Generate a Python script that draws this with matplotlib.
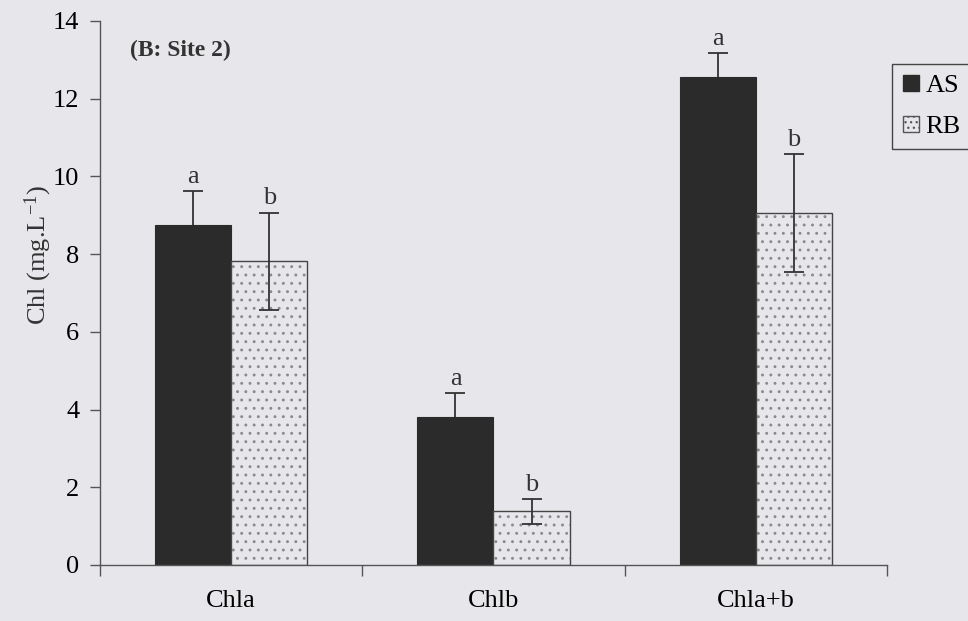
import numpy as np
import matplotlib
matplotlib.use('Agg')
import matplotlib.pyplot as plt
from matplotlib.patches import Patch

plt.rcParams['font.family'] = ['Liberation Serif', 'DejaVu Serif']
plt.rcParams['mathtext.default'] = 'regular'
plt.rcParams['hatch.linewidth'] = 0.9

categories = ['Chla', 'Chlb', 'Chla+b']
as_mean = [8.75, 3.82, 12.57]
as_err = [0.87, 0.6, 0.6]
rb_mean = [7.82, 1.38, 9.05]
rb_err = [1.25, 0.32, 1.52]
as_letters = ['a', 'a', 'a']
rb_letters = ['b', 'b', 'b']

bg = '#e7e7eb'
fig = plt.figure(figsize=(9.68, 6.21), dpi=100, facecolor=bg)
ax = fig.add_axes([0.1033, 0.0902, 0.8130, 0.8760], facecolor=bg)

x = np.arange(len(categories))
w = 0.29
# error bars first, the black bars then hide their lower half
ax.errorbar(x - w/2, as_mean, yerr=as_err, fmt='none', ecolor='#333333',
            elinewidth=1.3, capsize=7, capthick=1.3, zorder=1)
ax.bar(x - w/2, as_mean, w, color='#2b2b2b', edgecolor='#2b2b2b', linewidth=0.8, zorder=2)
# dotted fill drawn with a lighter hatch, then the dark outline on top
ax.bar(x + w/2, rb_mean, w, color=bg, edgecolor='#8a8a8e', hatch='..', linewidth=0, zorder=2)
ax.bar(x + w/2, rb_mean, w, fill=False, edgecolor='#444444', linewidth=1.0, zorder=2)
ax.errorbar(x + w/2, rb_mean, yerr=rb_err, fmt='none', ecolor='#333333',
            elinewidth=1.3, capsize=7, capthick=1.3, zorder=3)

for i in range(len(categories)):
    ax.annotate(as_letters[i], (x[i] - w/2, as_mean[i] + as_err[i]), xytext=(0, 6),
                textcoords='offset points', ha='center', va='baseline', fontsize=19, color='#333333')
    ax.annotate(rb_letters[i], (x[i] + w/2, rb_mean[i] + rb_err[i]), xytext=(0, 6),
                textcoords='offset points', ha='center', va='baseline', fontsize=19, color='#333333')

ax.set_xlim(-0.5, 2.5)
ax.set_ylim(0, 14)
ax.set_yticks(np.arange(0, 15, 2))
ax.set_xticks([-0.5, 0.5, 1.5, 2.5])
ax.set_xticklabels([])
ax.set_xticks(x, minor=True)
ax.set_xticklabels(categories, minor=True)
ax.tick_params(axis='x', which='minor', length=0, pad=18, labelsize=19)
ax.tick_params(axis='x', which='major', length=8, width=1, color='#555555')
ax.tick_params(axis='y', length=7, width=1, pad=8, labelsize=19, color='#555555')
for s in ['top', 'right']:
    ax.spines[s].set_visible(False)
for s in ['left', 'bottom']:
    ax.spines[s].set_color('#555555')
    ax.spines[s].set_linewidth(1.0)

ax.set_ylabel('Chl (mg.L$^{-1}$)', fontsize=19, color='#333333')
ax.yaxis.set_label_coords(-0.058, 0.57)
ax.text(0.038, 0.945, '(B: Site 2)', transform=ax.transAxes, fontsize=17,
        fontweight='bold', va='center', color='#333333')

handles = [Patch(facecolor='#2b2b2b', edgecolor='#2b2b2b'),
           Patch(facecolor=bg, edgecolor='#555555', hatch='...')]
leg = fig.legend(handles, ['AS', 'RB'], loc='upper left', bbox_to_anchor=(0.922, 0.897),
                 fontsize=19, frameon=True, fancybox=False, edgecolor='#444444',
                 facecolor=bg, framealpha=1, handlelength=0.6, handleheight=0.6,
                 handletextpad=0.25, labelspacing=0.7, borderpad=0.4, borderaxespad=0)
leg.get_frame().set_linewidth(1.0)

fig.savefig('out.png', dpi=100, facecolor=bg)
